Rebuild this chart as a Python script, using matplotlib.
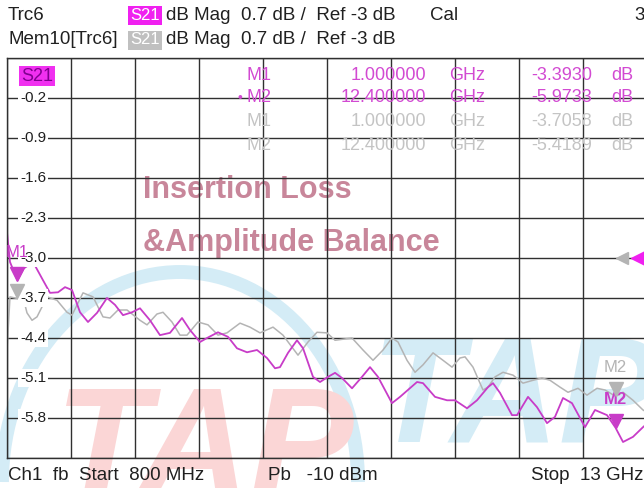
import matplotlib
matplotlib.use('Agg')
import matplotlib.pyplot as plt
from matplotlib.patches import Arc
import matplotlib.transforms as mtransforms

plt.rcParams['font.family'] = ['Liberation Sans', 'DejaVu Sans']

# trace (Trc6, S21): frequency in GHz, level in dB
trc_f = [0.800, 0.857, 1.000, 1.124, 1.296, 1.487, 1.620, 1.773, 1.906, 2.039,
         2.192, 2.344, 2.516, 2.706, 2.859, 3.011, 3.183, 3.335, 3.526, 3.716,
         3.907, 4.136, 4.288, 4.479, 4.613, 4.822, 5.013, 5.184, 5.375, 5.566,
         5.756, 5.909, 6.004, 6.157, 6.328, 6.443, 6.633, 6.767, 6.919, 7.053,
         7.186, 7.377, 7.567, 7.720, 7.872, 8.139, 8.292, 8.616, 8.730, 8.959,
         9.188, 9.340, 9.569, 9.759, 9.969, 10.064, 10.198, 10.427, 10.522, 10.732,
         10.903, 11.094, 11.246, 11.399, 11.570, 11.818, 12.009, 12.238, 12.400, 12.543,
         12.733, 12.924, 13.000]
trc_db = [-2.55, -3.07, -3.39, -3.18, -3.07, -3.39, -3.61, -3.60, -3.51, -3.56,
          -3.95, -4.12, -3.96, -3.70, -3.82, -4.00, -3.95, -3.88, -4.09, -4.35,
          -4.31, -4.05, -4.26, -4.47, -4.40, -4.30, -4.38, -4.58, -4.65, -4.61,
          -4.75, -4.93, -4.91, -4.66, -4.44, -4.58, -5.08, -5.17, -5.08, -5.01,
          -5.10, -5.28, -5.08, -4.91, -5.08, -5.54, -5.43, -5.17, -5.19, -5.43,
          -5.49, -5.49, -5.63, -5.49, -5.26, -5.19, -5.36, -5.75, -5.75, -5.43,
          -5.61, -5.89, -5.78, -5.45, -5.54, -5.96, -5.66, -5.75, -5.97, -6.22,
          -6.13, -5.96, -5.90]

# memory trace (Mem10[Trc6])
mem_f = [0.800, 0.857, 1.000, 1.086, 1.181, 1.277, 1.372, 1.563, 1.753, 1.944,
         2.039, 2.249, 2.439, 2.630, 2.763, 2.916, 3.088, 3.335, 3.469, 3.659,
         3.774, 3.945, 4.098, 4.231, 4.441, 4.632, 4.822, 4.994, 5.242, 5.432,
         5.623, 5.871, 6.061, 6.347, 6.538, 6.709, 6.900, 7.053, 7.377, 7.586,
         7.777, 7.968, 8.139, 8.254, 8.425, 8.578, 8.730, 8.921, 9.111, 9.283,
         9.435, 9.531, 9.683, 9.874, 9.969, 10.103, 10.255, 10.446, 10.636, 10.827,
         10.998, 11.151, 11.342, 11.494, 11.685, 11.856, 12.047, 12.199, 12.400, 12.543,
         12.733, 12.924, 13.000]
mem_db = [-4.61, -3.68, -3.71, -3.61, -3.96, -4.09, -4.03, -3.68, -3.74, -3.95,
          -4.00, -3.61, -3.68, -4.03, -4.05, -3.91, -3.91, -4.09, -4.17, -3.98,
          -3.95, -4.12, -4.35, -4.35, -4.12, -4.17, -4.35, -4.31, -4.14, -4.21,
          -4.31, -4.21, -4.35, -4.70, -4.47, -4.30, -4.31, -4.44, -4.40, -4.61,
          -4.79, -4.61, -4.40, -4.47, -4.79, -5.00, -4.87, -4.66, -4.79, -4.91,
          -4.75, -4.73, -4.91, -5.31, -5.26, -5.08, -5.00, -5.05, -5.19, -5.14,
          -5.10, -5.14, -5.26, -5.35, -5.28, -5.40, -5.28, -5.31, -5.42, -5.35,
          -5.49, -5.66, -5.70]

y_ticks = [-0.2, -0.9, -1.6, -2.3, -3.0, -3.7, -4.4, -5.1, -5.8]
marker_names = ['M1', 'M2', 'M1', 'M2']
marker_freq = ['1.000000', '12.400000', '1.000000', '12.400000']
marker_vals = ['-3.3930', '-5.9733', '-3.7058', '-5.4189']
f_start, f_stop = 0.8, 13.0
ref_level, scale_div = -3.0, 0.7

MAG = '#c83cc8'
MAG_TXT = '#d24ad2'
GRAY = '#b4b4b4'
GRAY_TXT = '#c4c4c4'
W, H = 644, 488


def fx(px):
    return px / W


def fy(py):
    return 1 - py / H


fig = plt.figure(figsize=(6.44, 4.88), dpi=100)
ax = fig.add_axes([fx(7), fy(458), 640 / W, 400 / H])
ax.set_facecolor('none')

ax.set_xlim(f_start, f_stop)
ax.set_ylim(ref_level - 5 * scale_div, ref_level + 5 * scale_div)
ax.set_xticks([f_start + i * (f_stop - f_start) / 10 for i in range(11)])
ax.set_yticks([ref_level + (i - 5) * scale_div for i in range(11)])
ax.tick_params(length=0, labelbottom=False, labelleft=False)
ax.set_axisbelow('line')
ax.grid(True, color='#303030', lw=1.0)
for s in ax.spines.values():
    s.set_color('#303030')
    s.set_linewidth(1.0)

# watermark logo
wm_red = '#fbd6d6'
wm_blue = '#d4ecf6'
arc = Arc((fx(180), fy(482)), 2 * 178 / W, 2 * 210 / H, theta1=0, theta2=180,
          transform=fig.transFigure, color=wm_blue, lw=10, zorder=-2)
fig.add_artist(arc)
fig.text(fx(55), fy(495), 'TAP', color=wm_red, fontsize=112, fontweight='bold',
         style='italic', ha='left', va='baseline', zorder=-1)
fig.text(fx(370), fy(442), 'TAP', color=wm_blue, fontsize=108, fontweight='bold',
         style='italic', ha='left', va='baseline', zorder=-1)

# overlay caption
cap_x = (143 - 7) / 640
ax.text(cap_x, 1 - (190 - 58) / 400, 'Insertion Loss', transform=ax.transAxes,
        color='#c8869a', fontsize=22, fontweight='bold', va='center', ha='left', zorder=1)
ax.text(cap_x, 1 - (243 - 58) / 400, '&Amplitude Balance', transform=ax.transAxes,
        color='#c8869a', fontsize=22, fontweight='bold', va='center', ha='left', zorder=1)

# traces
ax.plot(mem_f, mem_db, color=GRAY, lw=1.1, zorder=2)
ax.plot(trc_f, trc_db, color=MAG, lw=1.3, zorder=2.1)

# y scale labels inside the grid
for v in y_ticks:
    ax.text(13 / 640, v, '-' + format(abs(v), '.1f'), transform=ax.get_yaxis_transform(),
            fontsize=11, color='#202020', ha='left', va='center',
            bbox=dict(boxstyle='square,pad=0.12', fc='white', ec='none'), zorder=3)

# markers on the traces
m_pts = [(1.0, -3.393, MAG, 'M1'), (12.4, -5.9733, MAG, 'M2'),
         (1.0, -3.7058, GRAY, None), (12.4, -5.4189, GRAY, 'M2')]
for mf, mv, col, lab in m_pts:
    tr = mtransforms.offset_copy(ax.transData, fig=fig, x=0, y=5, units='points')
    ax.plot([mf], [mv], marker='v', ms=10, color=col, mec=col, transform=tr, zorder=4,
            clip_on=False)
    if lab:
        trl = mtransforms.offset_copy(ax.transData, fig=fig, x=0, y=15, units='points')
        ax.text(mf, mv, lab, transform=trl, color=col, fontsize=12,
                fontweight='bold' if (col == MAG and lab == 'M2') else 'normal',
                ha='center', va='bottom', zorder=4)

# reference level arrows at the right edge
ax.plot([(622 - 7) / 640], [ref_level], marker='<', ms=9, color=GRAY,
        transform=ax.get_yaxis_transform(), clip_on=False, zorder=4)
ax.plot([(639 - 7) / 640], [ref_level], marker='<', ms=11, color='#f020f0',
        transform=ax.get_yaxis_transform(), clip_on=False, zorder=4)

# S21 tag inside grid
fig.text(fx(21), fy(76), 'S21', fontsize=13, color='#800090', ha='left', va='center',
         bbox=dict(boxstyle='square,pad=0.1', fc='#f030f0', ec='none'))

# marker table
rows_y = [75, 98, 122, 145]
for i, yy in enumerate(rows_y):
    col = MAG_TXT if i < 2 else GRAY_TXT
    fig.text(fx(247), fy(yy), marker_names[i], fontsize=13, color=col, ha='left', va='center')
    fig.text(fx(426), fy(yy), marker_freq[i], fontsize=13, color=col, ha='right', va='center')
    fig.text(fx(449), fy(yy), 'GHz', fontsize=13, color=col, ha='left', va='center')
    fig.text(fx(592), fy(yy), marker_vals[i], fontsize=13, color=col, ha='right', va='center')
    fig.text(fx(611), fy(yy), 'dB', fontsize=13, color=col, ha='left', va='center')
fig.text(fx(240), fy(98), '•', fontsize=10, color=MAG_TXT, ha='center', va='center')

# header
hdr = 13.5
fig.text(fx(8), fy(15), 'Trc6', fontsize=hdr, color='#202020', va='center')
fig.text(fx(130), fy(15), 'S21', fontsize=12, color='white', va='center',
         bbox=dict(boxstyle='square,pad=0.12', fc='#f020f0', ec='none'))
fig.text(fx(166), fy(15), 'dB Mag  0.7 dB /  Ref -3 dB', fontsize=hdr, color='#202020', va='center')
fig.text(fx(430), fy(15), 'Cal', fontsize=hdr, color='#202020', va='center')
fig.text(fx(634), fy(15), '3', fontsize=hdr, color='#202020', va='center')
fig.text(fx(8), fy(40), 'Mem10[Trc6]', fontsize=hdr, color='#202020', va='center')
fig.text(fx(130), fy(40), 'S21', fontsize=12, color='white', va='center',
         bbox=dict(boxstyle='square,pad=0.12', fc='#c0c0c0', ec='none'))
fig.text(fx(166), fy(40), 'dB Mag  0.7 dB /  Ref -3 dB', fontsize=hdr, color='#202020', va='center')

# footer
fig.text(fx(8), fy(476), 'Ch1  fb  Start  800 MHz', fontsize=hdr, color='#202020', va='center')
fig.text(fx(268), fy(476), 'Pb   -10 dBm', fontsize=hdr, color='#202020', va='center')
fig.text(fx(643), fy(476), 'Stop  13 GHz', fontsize=hdr, color='#202020', va='center', ha='right')

fig.savefig('out.png', dpi=100)
